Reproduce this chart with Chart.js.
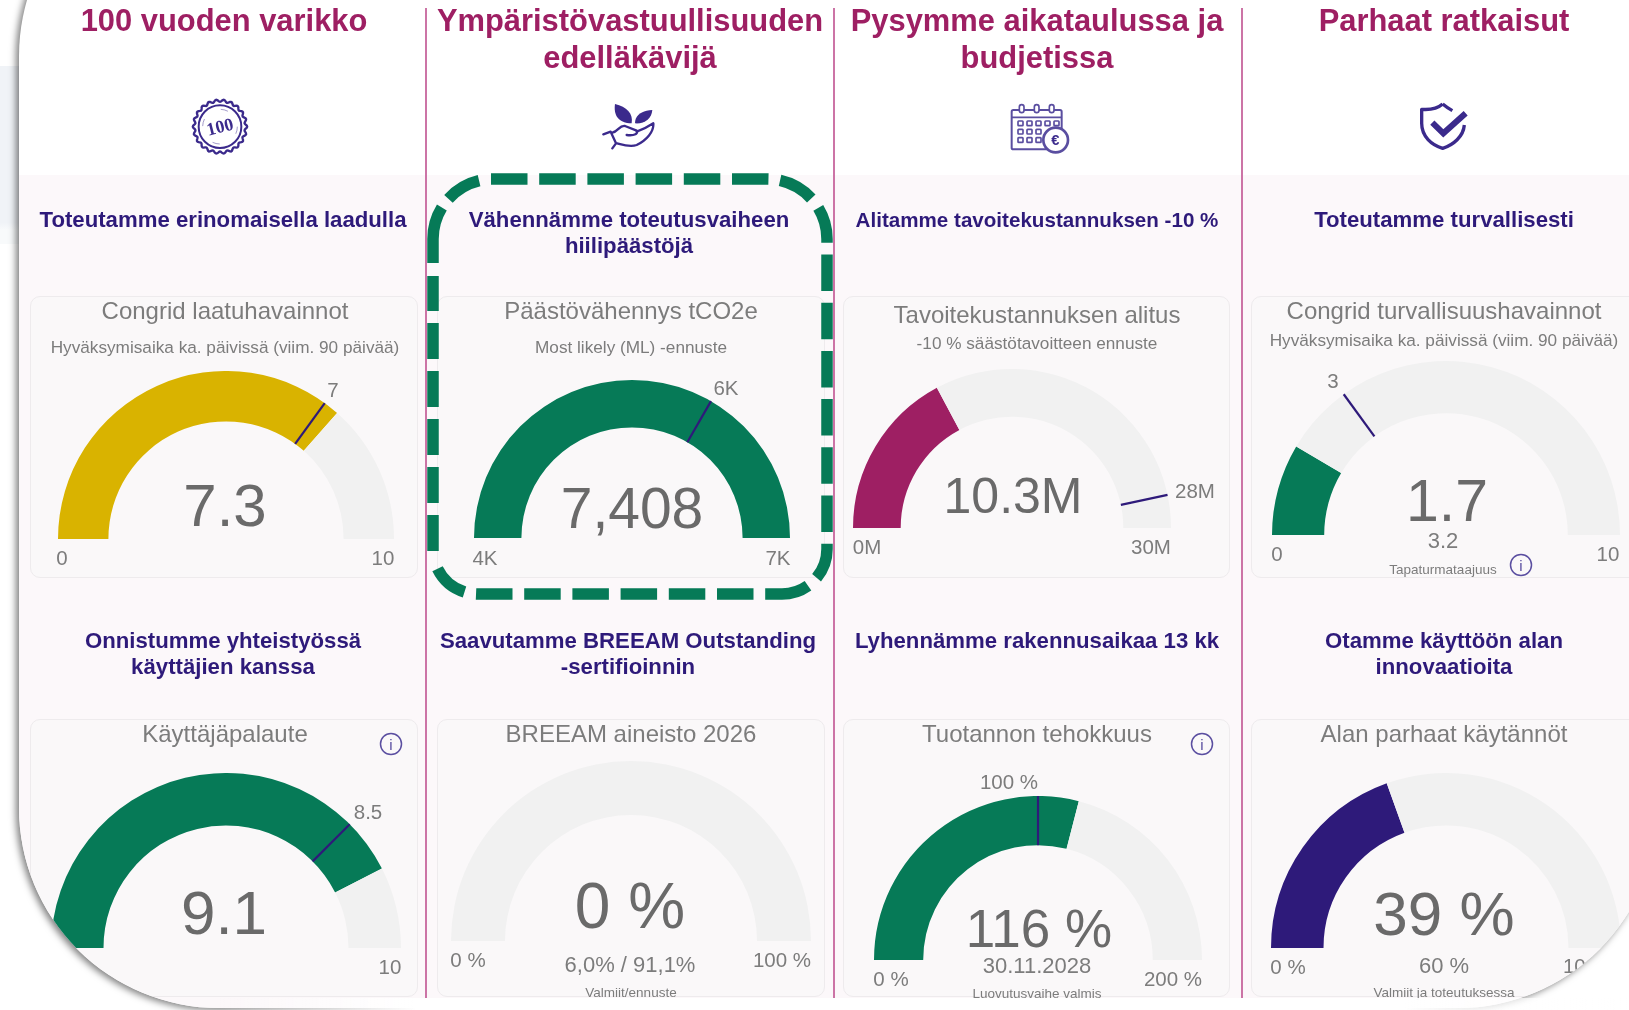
<!DOCTYPE html>
<html lang="fi">
<head>
<meta charset="utf-8">
<title>Mittaristo</title>
<script src="https://cdn.jsdelivr.net/npm/chart.js@4"></script>
<style>
html,body{margin:0;padding:0;width:1629px;height:1010px;background:#fff;overflow:hidden;font-family:"Liberation Sans",Arial,sans-serif}
#leftBlock{position:absolute;left:0;top:66px;width:20px;height:178px;background:linear-gradient(#f0f3f7 0,#f0f3f7 88%,#f8fafb 92%)}
#frame{position:absolute;left:19px;top:-144px;width:1639px;height:1152px;border-radius:200px;background:#fff;overflow:hidden;box-shadow:-3px 2px 7px rgba(0,0,0,.5)}
#page{position:absolute;left:-19px;top:144px;width:1629px;height:1010px;filter:blur(.4px)}
#tint{position:absolute;left:0;top:175px;width:1629px;height:835px;background:#fcf8fa}
#bottomFade{position:absolute;left:220px;top:998px;width:1409px;height:12px;background:linear-gradient(90deg,rgba(255,255,255,0),#fff 14%,#fff 84%,rgba(255,255,255,.4))}
.t{position:absolute;transform:translate(-50%,-50%);white-space:nowrap;line-height:1}
.vline{position:absolute;width:2px;top:8px;height:990px;background:#cc74a6}
.card{position:absolute;box-sizing:border-box;border:1.5px solid #eeebed;border-radius:10px;background:#faf8f9}
canvas{position:absolute;display:block}
svg{position:absolute;overflow:visible}
</style>
</head>
<body>
<div id="leftBlock"></div>
<div id="frame"><div id="page"><div id="tint"></div></div></div>
<div id="bottomFade"></div>
<script>
// ---------- data ----------
const sectionHeaders = [["100 vuoden varikko"],["Ympäristövastuullisuuden","edelläkävijä"],["Pysymme aikataulussa ja","budjetissa"],["Parhaat ratkaisut"]];
const goalTitles = [["Toteutamme erinomaisella laadulla"],["Vähennämme toteutusvaiheen","hiilipäästöjä"],["Alitamme tavoitekustannuksen -10 %"],["Toteutamme turvallisesti"],
  ["Onnistumme yhteistyössä","käyttäjien kanssa"],["Saavutamme BREEAM Outstanding","-sertifioinnin"],["Lyhennämme rakennusaikaa 13 kk"],["Otamme käyttöön alan","innovaatioita"]];
const gaugeTitles = ["Congrid laatuhavainnot","Päästövähennys tCO2e","Tavoitekustannuksen alitus","Congrid turvallisuushavainnot","Käyttäjäpalaute","BREEAM aineisto 2026","Tuotannon tehokkuus","Alan parhaat käytännöt"];
const gaugeSubtitles = ["Hyväksymisaika ka. päivissä (viim. 90 päivää)","Most likely (ML) -ennuste","-10 % säästötavoitteen ennuste","Hyväksymisaika ka. päivissä (viim. 90 päivää)","","","",""];
const gaugeValues  = [7.3, 7408, 10.3, 1.7, 9.1, 0, 116, 39];
const gaugeMins    = [0, 4000, 0, 0, 4, 0, 0, 0];
const gaugeMaxes   = [10, 7000, 30, 10, 10, 100, 200, 100];
const gaugeTargets = [7, 6000, 28, 3, 8.5, null, 100, null];
const valueLabels  = ["7.3","7,408","10.3M","1.7","9.1","0 %","116 %","39 %"];
const targetLabels = ["7","6K","28M","3","8.5","","100 %",""];
const minLabels    = ["0","4K","0M","0","4","0 %","0 %","0 %"];
const maxLabels    = ["10","7K","30M","10","10","100 %","200 %","100 %"];
const footValues   = ["","","","3.2","","6,0% / 91,1%","30.11.2028","60 %"];
const footCaptions = ["","","","Tapaturmataajuus","","Valmiit/ennuste","Luovutusvaihe valmis","Valmiit ja toteutuksessa"];

// ---------- styles and layout ----------
const MAGENTA="#9e1f63", NAVY="#2e1a7a", GREEN="#067a57", GOLD="#d9b300", TRACK="#f1f1f1", GREY="#6a6a6a", LIGHTGREY="#7c7c7c";
const gaugeColors=[GOLD,GREEN,MAGENTA,GREEN,GREEN,GREEN,GREEN,NAVY];
const gaugeGeom=[[226,539,168],[632,538,158],[1012,528,159],[1446,535,174],[226,948,175],[631,941,180],[1038,960,164],[1446,948,175]]; // cx, base, radius
const valuePos=[[225,506,60],[632,508,57],[1013,496,50],[1447,501,59],[224,913,62],[630,906,64],[1039,928,53],[1444,914,62]];
const targetPos=[[333,390],[726,388],[1195,491],[1333,381],[368,812],null,[1009,782],null];
const minPos=[[62,558],[485,558],[867,547],[1277,554],[62,968],[468,960],[891,979],[1288,967]];
const maxPos=[[383,558],[778,558],[1151,547],[1608,554],[390,967],[782,960],[1173,979],[1592,966]];
const footPos=[null,null,null,[1443,541],null,[630,965],[1037,966],[1444,966]];
const capPos=[null,null,null,[1443,570],null,[631,993],[1037,994],[1444,993]];
const titlePos=[[225,311],[631,311],[1037,315],[1444,311],[225,734],[631,734],[1037,734],[1444,734]];
const subPos=[[225,348],[631,348],[1037,344],[1444,341],null,null,null,null];
const goalPos=[[223,220],[629,220],[1037,220],[1444,220],[223,641],[628,641],[1037,641],[1444,641]];
const goalSizes=[22.2,22.2,20.6,22.2,22.2,22.2,22.2,22.2];
const headerCenters=[224,630,1037,1444];
const cardRects=[[30,296,388,282],[437,296,388,282],[843,296,387,282],[1251,296,420,282],[30,719,388,278],[437,719,388,278],[843,719,387,278],[1251,719,420,278]];
const infoPos=[[1521,565],[391,744],[1202,744]];

const page=document.getElementById('page');
function text(str,x,y,size,color,weight){
  const d=document.createElement('div');d.className='t';d.textContent=str;
  d.style.cssText=`left:${x}px;top:${y}px;font-size:${size}px;color:${color};font-weight:${weight||400}`;
  page.appendChild(d);return d;
}
[425,833,1241].forEach(x=>{const v=document.createElement('div');v.className='vline';v.style.left=x+'px';page.appendChild(v);});
cardRects.forEach(r=>{const c=document.createElement('div');c.className='card';
  c.style.cssText=`left:${r[0]}px;top:${r[1]}px;width:${r[2]}px;height:${r[3]}px`;page.appendChild(c);});

sectionHeaders.forEach((lines,i)=>lines.forEach((l,j)=>text(l,headerCenters[i],21+j*37,30.9,MAGENTA,700)));
goalTitles.forEach((lines,i)=>lines.forEach((l,j)=>text(l,goalPos[i][0],goalPos[i][1]+j*26,goalSizes[i],NAVY,700)));

// target tick drawn from the gauge's own arc geometry
const targetTick={id:'targetTick',afterDatasetsDraw(chart,args,opts){
  if(opts.target==null)return;
  const a=chart.getDatasetMeta(0).data[0];
  const f=(opts.target-opts.min)/(opts.max-opts.min);
  const ang=Math.PI*(1+f);
  const g=chart.ctx;g.save();g.strokeStyle=NAVY;g.lineWidth=2.2;g.beginPath();
  g.moveTo(a.x+a.innerRadius*Math.cos(ang),a.y+a.innerRadius*Math.sin(ang));
  g.lineTo(a.x+a.outerRadius*Math.cos(ang),a.y+a.outerRadius*Math.sin(ang));
  g.stroke();g.restore();
}};

gaugeValues.forEach((v,i)=>{
  const [cx,base,r]=gaugeGeom[i];
  const cv=document.createElement('canvas');
  cv.width=2*r;cv.height=r;cv.style.cssText=`left:${cx-r}px;top:${base-r}px;width:${2*r}px;height:${r}px`;
  page.appendChild(cv);
  const lo=gaugeMins[i],hi=gaugeMaxes[i],cl=Math.min(hi,Math.max(lo,v));
  new Chart(cv,{type:'doughnut',
    data:{labels:['Arvo','Jäljellä'],datasets:[{data:[cl-lo,hi-cl],backgroundColor:[gaugeColors[i],TRACK],borderWidth:0,hoverOffset:0,offset:0,hoverBorderWidth:0}]},
    options:{responsive:false,animation:false,rotation:-90,circumference:180,cutout:'70%',events:[],layout:{padding:0},
      plugins:{legend:{display:false},tooltip:{enabled:false},title:{display:false},targetTick:{target:gaugeTargets[i],min:lo,max:hi}}},
    plugins:[targetTick]});
  text(gaugeTitles[i],titlePos[i][0],titlePos[i][1],24,LIGHTGREY);
  if(gaugeSubtitles[i])text(gaugeSubtitles[i],subPos[i][0],subPos[i][1],17.2,LIGHTGREY);
  text(valueLabels[i],valuePos[i][0],valuePos[i][1],valuePos[i][2],GREY);
  if(targetLabels[i])text(targetLabels[i],targetPos[i][0],targetPos[i][1],20.5,LIGHTGREY);
  text(minLabels[i],minPos[i][0],minPos[i][1],20.5,LIGHTGREY);
  text(maxLabels[i],maxPos[i][0],maxPos[i][1],20.5,LIGHTGREY);
  if(footValues[i])text(footValues[i],footPos[i][0],footPos[i][1],22,LIGHTGREY);
  if(footCaptions[i])text(footCaptions[i],capPos[i][0],capPos[i][1],13.5,LIGHTGREY);
});

const NS='http://www.w3.org/2000/svg';
function addSvg(html,x,y,w,h,vb){
  const s=document.createElementNS(NS,'svg');
  s.setAttribute('viewBox',vb||`0 0 ${w} ${h}`);s.setAttribute('width',w);s.setAttribute('height',h);
  s.style.left=x+'px';s.style.top=y+'px';s.innerHTML=html;page.appendChild(s);return s;
}
// info icons
infoPos.forEach(p=>addSvg(`<circle cx="12" cy="12" r="10.5" fill="none" stroke="#5a4ea0" stroke-width="1.5"/><text x="12" y="17.5" text-anchor="middle" font-size="15" font-family="Liberation Sans" fill="#5a4ea0">i</text>`,p[0]-12,p[1]-12,24,24));
// dashed highlight, in runs so each side's dashes fall where they do in the picture
const dashRuns=[
  ["M491 179H767A60 60 0 0 1 827 239V549A45 45 0 0 1 782 594","36.5 11.7",0],
  ["M782 594H478A45 45 0 0 1 434.5 560.6","36.5 11.7",19.7],
  ["M433 551V276","36 12",0],
  ["M433 263V239A60 60 0 0 1 493 179","57 11 36 100",0]
];
addSvg(dashRuns.map(d=>`<path d="${d[0]}" fill="none" stroke="${GREEN}" stroke-width="11.5" stroke-dasharray="${d[1]}" stroke-dashoffset="${d[2]}"/>`).join(""),0,0,1629,1010);
// icons (each in a 300x240 box over 100x80 px)
const ic="#3b2a8c";
let scallop="";for(let k=0;k<=360;k+=2){const th=k*Math.PI/180,rr=78+3.5*Math.cos(22*th);scallop+=(k?"L":"M")+(150+rr*Math.cos(th)).toFixed(1)+" "+(110+rr*Math.sin(th)).toFixed(1);}
addSvg(`<path d="${scallop}Z" fill="none" stroke="${ic}" stroke-width="7"/>
<circle cx="150" cy="110" r="64" fill="none" stroke="${ic}" stroke-width="6"/>
<circle cx="150" cy="110" r="52" fill="none" stroke="${ic}" stroke-width="2" stroke-dasharray="22 60" opacity=".7"/>
<text x="150" y="128" text-anchor="middle" font-family="Liberation Serif" font-weight="700" font-size="54" fill="${ic}" transform="rotate(-14 150 110)">100</text>`,170,90,100,80,"0 0 300 240");
addSvg(`<path d="M155 100C115 100 100 75 105 42C140 50 160 70 155 100Z" fill="${ic}"/><path d="M165 100C165 75 185 62 217 60C215 85 195 102 165 100Z" fill="${ic}"/>
<path d="M70 133L92 125L108 160L97 175M97 128C115 125 118 105 135 108L170 122C175 130 165 138 140 135M170 125C190 118 205 110 220 100C222 125 200 150 170 165C150 172 130 165 112 160" fill="none" stroke="${ic}" stroke-width="7" stroke-linecap="round" stroke-linejoin="round"/>`,580,90,100,80,"0 0 300 240");
let grid="";[[100,5],[125,3],[150,3]].forEach(([y,n])=>{for(let c=0;c<n;c++)grid+=`<rect x="${84+27*c}" y="${y-7}" width="15" height="14" rx="2" fill="none" stroke="#5a4ea0" stroke-width="5"/>`;});
addSvg(`<rect x="65" y="60" width="150" height="118" rx="5" fill="#fff" stroke="#5a4ea0" stroke-width="6"/><path d="M65 82H215" stroke="#5a4ea0" stroke-width="5"/>
${[95,140,185].map(x=>`<rect x="${x-7}" y="44" width="14" height="24" rx="7" fill="#fff" stroke="#5a4ea0" stroke-width="5"/>`).join("")}${grid}
<circle cx="197" cy="150" r="37" fill="#fff" stroke="#5a4ea0" stroke-width="8"/><text x="196" y="166" text-anchor="middle" font-family="Liberation Sans" font-weight="700" font-size="44" fill="${ic}">€</text>`,990,90,100,80,"0 0 300 240");
addSvg(`<path d="M143 42C125 58 105 60 80 58L80 100C80 140 110 165 143 175C175 165 205 140 208 105" fill="none" stroke="${ic}" stroke-width="10" stroke-linejoin="round"/>
<path d="M172 62C165 58 155 52 143 42" fill="none" stroke="${ic}" stroke-width="10"/>
<path d="M112 98L145 130L212 70" fill="none" stroke="${ic}" stroke-width="18"/>`,1395,90,100,80,"0 0 300 240");
</script>
</body>
</html>
